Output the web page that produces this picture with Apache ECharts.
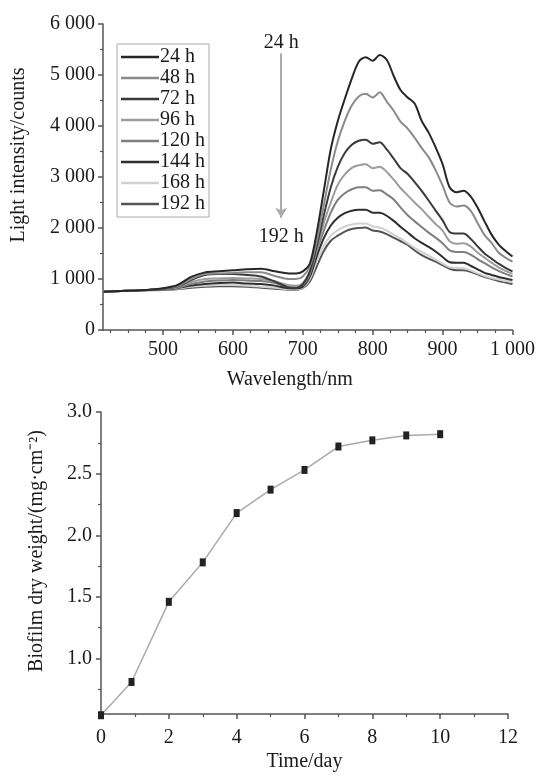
<!DOCTYPE html>
<html><head><meta charset="utf-8">
<script src="https://cdn.jsdelivr.net/npm/echarts@6/dist/echarts.min.js"></script>
<style>html,body{margin:0;padding:0;background:#fff}#c{width:538px;height:776px}</style>
</head><body><div id="c"></div>
<script>
// ---- Top chart data: light intensity spectra ----
const wavelengths = [415,440,460,480,500,520,540,560,580,600,620,640,660,680,690,700,710,720,730,740,750,760,770,780,790,800,810,820,830,840,850,860,870,880,890,900,910,920,930,940,950,960,970,980,990,1000];
const seriesNames = ['24 h','48 h','72 h','96 h','120 h','144 h','168 h','192 h'];
const s24  = [750,765,775,790,820,880,1040,1130,1150,1170,1190,1200,1150,1110,1110,1150,1300,1920,2730,3550,4100,4530,4930,5260,5350,5280,5390,5300,4980,4700,4560,4440,4100,3870,3580,3250,2800,2700,2730,2620,2400,2130,1870,1680,1550,1440];
const s48  = [750,765,775,790,815,860,1000,1100,1110,1120,1130,1130,1060,1000,1000,1050,1250,1750,2450,3150,3700,4100,4400,4580,4630,4560,4660,4480,4300,4080,3950,3770,3570,3390,3130,2830,2500,2420,2440,2340,2100,1860,1710,1520,1420,1340];
const s72  = [750,765,775,790,810,850,980,1080,1100,1100,1080,1050,950,830,820,900,1150,1650,2250,2800,3200,3470,3630,3710,3730,3650,3680,3540,3360,3170,3060,2900,2730,2540,2340,2150,1920,1890,1890,1790,1640,1500,1400,1300,1220,1150];
const s96  = [750,765,775,785,805,840,940,1000,1010,1020,1010,1000,950,880,870,920,1150,1600,2100,2500,2850,3050,3180,3230,3250,3170,3200,3100,2950,2780,2640,2500,2370,2220,2080,1950,1740,1690,1700,1640,1520,1420,1320,1230,1160,1100];
const s120 = [750,765,775,785,800,830,900,950,970,980,970,960,920,850,850,880,1100,1550,1950,2300,2550,2680,2760,2800,2800,2730,2740,2660,2560,2400,2250,2130,2020,1910,1810,1700,1560,1530,1530,1480,1390,1310,1230,1160,1100,1050];
const s144 = [750,765,775,785,795,820,870,900,920,930,910,900,870,820,820,850,1050,1450,1800,2050,2200,2290,2340,2360,2360,2300,2300,2240,2140,2020,1910,1800,1710,1630,1540,1430,1330,1320,1320,1260,1190,1120,1080,1040,1010,980];
const s168 = [750,765,775,780,790,810,850,870,880,880,870,850,830,800,800,830,1000,1350,1650,1850,1960,2030,2070,2090,2090,2030,2010,1950,1870,1790,1700,1610,1530,1460,1380,1300,1230,1220,1210,1170,1110,1060,1020,990,960,940];
const s192 = [750,765,775,780,785,800,830,850,860,860,850,830,810,790,790,820,950,1250,1550,1750,1850,1930,1980,2000,2010,1950,1930,1880,1810,1740,1670,1560,1470,1400,1340,1270,1200,1170,1170,1140,1090,1040,1000,960,930,900];
const spectra = [s24,s48,s72,s96,s120,s144,s168,s192];
const wlTickLabels = [500,600,700,800,900,1000];
const wlMinorTicks = [425,450,475,525,550,575,625,650,675,725,750,775,825,850,875,925,950,975];
const intensityTicks = [0,1000,2000,3000,4000,5000,6000];
// ---- Bottom chart data: biofilm dry weight ----
const days = [0,0.9,2,3,4,5,6,7,8,9,10];
const weights = [0.54,0.81,1.46,1.78,2.18,2.37,2.53,2.72,2.77,2.81,2.82];
const weightTickLabels = [1.0,1.5,2.0,2.5,3.0];
const weightMinorTicks = [0.75,1.25,1.75,2.25,2.75];
// annotation arrow
const arrowWl = 669, arrowFrom = 5420, arrowTo = 2200;

const colors = ['#262626','#8a8a8a','#3a3a3a','#9c9c9c','#7e7e7e','#2e2e2e','#d0d0d0','#555555'];
const FONT = 'Liberation Serif';
const axisCol = '#555';
const txt = {color:'#1a1a1a', fontFamily:FONT, fontSize:20};
const sp = v => { const s = String(v); return s.length>3 ? s.slice(0,s.length-3)+' '+s.slice(-3) : s; };

const chart = echarts.init(document.getElementById('c'), null, {renderer:'canvas'});
const series = spectra.map((d,i)=>({
  name: seriesNames[i], type:'line', xAxisIndex:0, yAxisIndex:0,
  data: d.map((v,j)=>[wavelengths[j], v]),
  showSymbol:false, smooth:0.3, lineStyle:{width:2, color:colors[i]}, itemStyle:{color:colors[i]},
  z: 10-i, silent:true
}));
series[0].markLine = {
  silent:true, symbol:['none','arrow'], symbolSize:[9,10], label:{show:false},
  lineStyle:{color:'#aaaaaa', width:2, type:'solid'},
  data:[[{coord:[arrowWl, arrowFrom]},{coord:[arrowWl, arrowTo]}]]
};
series[0].markPoint = {
  silent:true, symbol:'circle', symbolSize:0,
  label:{show:true, formatter:'{b}', ...txt, position:'inside'},
  data:[{name:'24 h', coord:[arrowWl, 5640]},{name:'192 h', coord:[arrowWl, 1830]}]
};
series.push({
  name:'weight', type:'line', xAxisIndex:2, yAxisIndex:2,
  data: days.map((d,i)=>[d, weights[i]]),
  symbol:'rect', symbolSize:[6,8], showSymbol:true,
  lineStyle:{color:'#aaaaaa', width:1.5}, itemStyle:{color:'#222'}, silent:true, clip:false
});

chart.setOption({
  animation:false,
  textStyle:{fontFamily:FONT},
  grid:[
    {left:103, right:25, top:24, bottom:446},
    {left:101, right:30, top:412, bottom:62}
  ],
  legend:{
    data: seriesNames, orient:'vertical', left:117, top:44,
    icon:'rect', itemWidth:38, itemHeight:2.5, itemGap:1,
    padding:[3,4,3,4], borderColor:'#aaa', borderWidth:1,
    textStyle:{...txt, padding:[0,0,0,-4]}, selectedMode:false
  },
  xAxis:[
    {gridIndex:0, type:'value', min:414, max:1000,
     name:'Wavelength/nm', nameLocation:'middle', nameGap:40,
     nameTextStyle:{...txt, padding:[0,36,0,0]},
     axisLine:{lineStyle:{color:axisCol, width:1.5}},
     axisTick:{customValues:wlTickLabels, length:5, lineStyle:{color:axisCol, width:1.5}},
     axisLabel:{customValues:wlTickLabels, formatter:v=>sp(v), ...txt, margin:10},
     splitLine:{show:false}},
    {gridIndex:0, type:'value', min:414, max:1000, position:'bottom',
     axisLine:{show:false}, axisLabel:{show:false}, splitLine:{show:false},
     axisTick:{customValues:wlMinorTicks, length:3, lineStyle:{color:axisCol, width:1.2}}},
    {gridIndex:1, type:'value', min:0, max:12, interval:2,
     name:'Time/day', nameLocation:'middle', nameGap:38, nameTextStyle:txt,
     axisLine:{lineStyle:{color:axisCol, width:1.5}},
     axisTick:{length:5, lineStyle:{color:axisCol, width:1.5}},
     minorTick:{show:true, splitNumber:2, length:3, lineStyle:{color:axisCol, width:1.2}},
     axisLabel:{...txt, margin:14},
     splitLine:{show:false}}
  ],
  yAxis:[
    {gridIndex:0, type:'value', min:0, max:6000, interval:1000,
     name:'Light intensity/counts', nameLocation:'middle', nameGap:74,
     nameTextStyle:{...txt, padding:[0,0,0,44]},
     axisLine:{show:true, lineStyle:{color:axisCol, width:1.5}},
     axisTick:{show:true, length:5, lineStyle:{color:axisCol, width:1.5}},
     minorTick:{show:true, splitNumber:2, length:3, lineStyle:{color:axisCol, width:1.2}},
     axisLabel:{formatter:v=>sp(v), ...txt, margin:8},
     splitLine:{show:false}},
    {gridIndex:0, type:'value', min:0, max:6000, show:false},
    {gridIndex:1, type:'value', min:0.55, max:3.0,
     name:'Biofilm dry weight/(mg·cm⁻²)', nameLocation:'middle', nameGap:54,
     nameTextStyle:{...txt, padding:[0,0,0,24]},
     axisLine:{show:true, lineStyle:{color:axisCol, width:1.5}},
     axisTick:{show:true, customValues:weightTickLabels, length:5, lineStyle:{color:axisCol, width:1.5}},
     axisLabel:{customValues:weightTickLabels, formatter:v=>v.toFixed(1), ...txt, margin:9},
     splitLine:{show:false}},
    {gridIndex:1, type:'value', min:0.55, max:3.0, position:'left',
     axisLine:{show:false}, axisLabel:{show:false}, splitLine:{show:false},
     axisTick:{show:true, customValues:weightMinorTicks, length:3, lineStyle:{color:axisCol, width:1.2}}}
  ],
  series: series
});
</script></body></html>
